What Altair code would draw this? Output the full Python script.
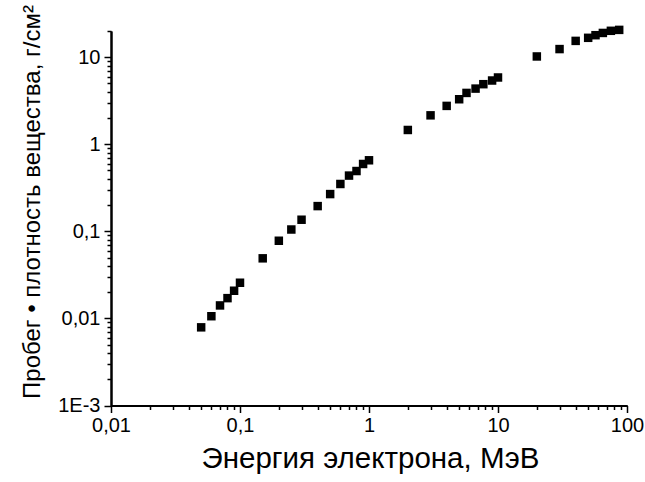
import altair as alt
import pandas as pd

# Electron energy, MeV
energy = [0.05, 0.06, 0.07, 0.08, 0.09, 0.1, 0.15, 0.2, 0.25, 0.3, 0.4, 0.5,
          0.6, 0.7, 0.8, 0.9, 1.0, 2, 3, 4, 5, 5.7, 6.7, 7.7, 9, 10,
          20, 30, 40, 50, 57, 65, 75, 87]
# Range * density, g/cm^2
rng = [0.0079, 0.0106, 0.0141, 0.0171, 0.0208, 0.0257, 0.049, 0.078, 0.105,
       0.136, 0.195, 0.268, 0.35, 0.437, 0.493, 0.594, 0.655, 1.46, 2.15,
       2.76, 3.29, 3.89, 4.36, 4.90, 5.40, 5.85, 10.2, 12.4, 15.4, 16.7,
       17.9, 19.0, 20.1, 20.6]

x_major = [0.01, 0.1, 1, 10, 100]
x_major_labels = ["0,01", "0,1", "1", "10", "100"]
y_major = [0.001, 0.01, 0.1, 1, 10]
y_major_labels = ["1E-3", "0,01", "0,1", "1", "10"]
minor_mult = [2, 3, 4, 5, 6, 7, 8, 9]
x_minor = [round(m * v, 6) for v in x_major[:-1] for m in minor_mult]
y_minor = [round(m * v, 6) for v in y_major for m in minor_mult if m * v <= 20]

x_title = "Энергия электрона, МэВ"
y_title = "Пробег • плотность вещества, г/см²"

FONT = "Liberation Sans"


def label_expr(values, labels):
    expr = "''"
    for v, l in reversed(list(zip(values, labels))):
        expr = f"abs(datum.value - {v}) < {v * 1e-6} ? '{l}' : ({expr})"
    return expr


df = pd.DataFrame({"E": energy, "R": rng})

xscale = alt.Scale(type="log", domain=[0.01, 100], nice=False)
yscale = alt.Scale(type="log", domain=[0.001, 20], nice=False)

common = dict(grid=False, domainColor="black", tickColor="black",
              domainWidth=2, tickWidth=1.5)

major = alt.Chart(df).mark_square(size=72, color="black", opacity=1).encode(
    x=alt.X("E:Q", scale=xscale, axis=alt.Axis(
        orient="bottom", values=x_major,
        labelExpr=label_expr(x_major, x_major_labels),
        tickSize=7, labelFont=FONT, labelFontSize=20, labelColor="black",
        labelPadding=3, labelOverlap=False, labelFlush=False,
        title=x_title, titleFont=FONT, titleFontSize=29.5,
        titleFontWeight="normal", titleColor="black",
        titleX=259, titleY=62, titleAlign="center",
        titleBaseline="alphabetic", **common)),
    y=alt.Y("R:Q", scale=yscale, axis=alt.Axis(
        orient="left", values=y_major,
        labelExpr=label_expr(y_major, y_major_labels),
        tickSize=7, labelFont=FONT, labelFontSize=20, labelColor="black",
        labelPadding=4, labelOverlap=False, labelFlush=False,
        title=y_title, titleFont=FONT, titleFontSize=24,
        titleFontWeight="normal", titleColor="black",
        titleX=-72, titleY=170.5, titleAngle=-90, titleAlign="center",
        titleBaseline="alphabetic", **common)),
)

minor = alt.Chart(df).mark_square(size=72, opacity=0).encode(
    x=alt.X("E:Q", scale=xscale, axis=alt.Axis(
        orient="bottom", values=x_minor, labels=False, tickSize=4,
        title=None, **common)),
    y=alt.Y("R:Q", scale=yscale, axis=alt.Axis(
        orient="left", values=y_minor, labels=False, tickSize=4,
        title=None, **common)),
)

chart = alt.layer(minor, major).resolve_axis(
    x="independent", y="independent"
).properties(
    width=516, height=374.5,
    padding={"left": 111, "top": 31, "right": 18, "bottom": 76.5},
    autosize=alt.AutoSizeParams(type="none"),
    background="white",
).configure_view(strokeWidth=0)

chart.save("out.html", embed_options={"renderer": "svg", "actions": False})
